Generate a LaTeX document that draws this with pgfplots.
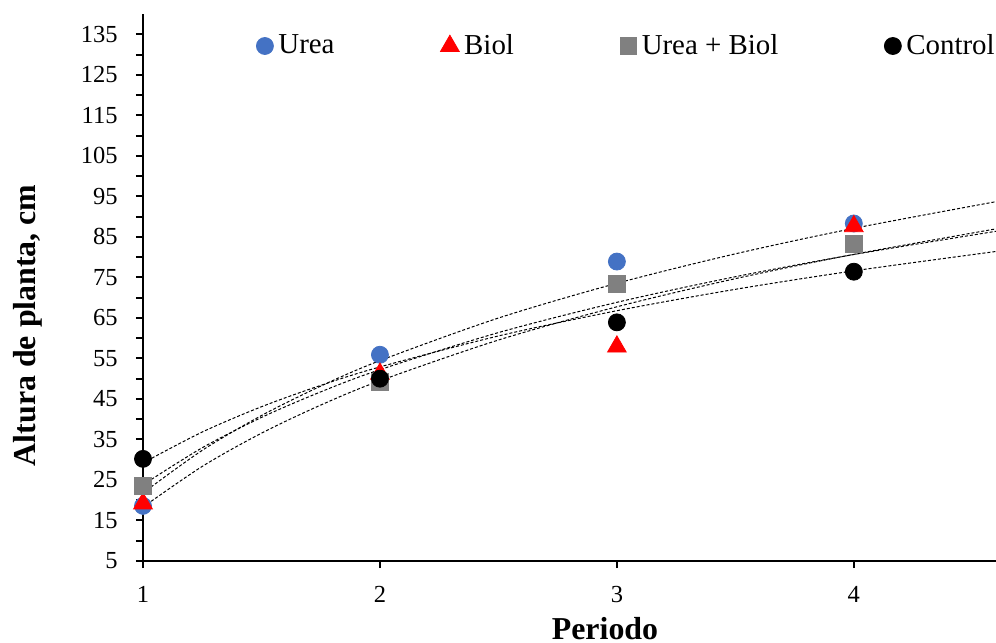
\documentclass[border=0pt]{standalone}
\usepackage{pgfplots}
\pgfplotsset{compat=1.18}
\usepackage{fontspec}
\setmainfont{Liberation Serif}
\definecolor{ureablue}{RGB}{68,114,196}
\definecolor{ubgray}{RGB}{128,128,128}
\begin{document}
\begin{tikzpicture}
\begin{axis}[
  name=ax,
  scale only axis,
  width=426.5bp, height=273.5bp,
  xmin=1, xmax=4.6, ymin=5, ymax=140,
  clip=false,
  axis lines=left,
  axis line style={-, line width=1bp, black},
  xtick={1,2,3,4},
  ytick={5,15,...,135},
  minor y tick num=1,
  tick align=outside,
  major tick length=3.5bp, minor tick length=3.5bp,
  every tick/.style={line width=1bp, black},
  /pgf/number format/assume math mode=true,
  tick label style={font=\fontsize{12.3}{15}\selectfont},
  yticklabel style={anchor=east, inner sep=0pt, xshift=-9bp},
  xticklabel style={anchor=north, inner sep=0pt, yshift=-9bp},
  xlabel={Periodo},
  ylabel={Altura de planta, cm},
  xlabel style={at={(axis description cs:0.5416,0)}, anchor=base, yshift=-39bp, font=\bfseries\fontsize{16}{19}\selectfont},
  ylabel style={at={(axis description cs:-0.1266,0.431)}, anchor=base, font=\bfseries\fontsize{16}{19}\selectfont},
  legend columns=4,
  legend image code/.code={\draw[#1] plot coordinates {(0bp,0bp)};},
  legend style={draw=none, fill=none, at={(axis description cs:0.1325,0.9415)}, anchor=west, inner sep=0pt,
    font=\fontsize{14.5}{17}\selectfont,
    /tikz/every odd column/.append style={column sep=0.5bp},
    /tikz/every even column/.append style={column sep=51bp}},
  trend/.style={black, line width=0.5bp, dash pattern=on 1.5bp off 1bp, smooth, forget plot},
]
\addplot[only marks, mark=*, mark size=4.25bp, color=ureablue] coordinates {(1,18.6) (2,55.9) (3,78.9) (4,88.3)};
\addlegendentry{Urea}
\addplot[only marks, mark=triangle*, mark size=5.4bp, color=red] coordinates {(1,19.2) (2,51.2) (3,57.9) (4,87.6)};
\addlegendentry{Biol}
\addplot[only marks, mark=square*, mark size=4.2bp, color=ubgray] coordinates {(1,23.5) (2,49.2) (3,73.3) (4,83.2)};
\addlegendentry{Urea + Biol}
\addplot[only marks, mark=*, mark size=4.25bp, color=black] coordinates {(1,30.2) (2,50.0) (3,63.9) (4,76.4)};
\addlegendentry{Control}
% logarithmic trendlines
\addplot[trend] coordinates {(1,21.8) (1.25,32.31) (1.5,40.90) (1.75,48.16) (2,54.45) (2.5,64.96) (3,73.54) (3.5,80.81) (4,87.10) (4.6,93.68)};
\addplot[trend] coordinates {(1,18.3) (1.25,28.34) (1.5,36.55) (1.75,43.48) (2,49.49) (2.5,59.53) (3,67.74) (3.5,74.68) (4,80.68) (4.6,86.97)};
\addplot[trend] coordinates {(1,23.8) (1.25,32.95) (1.5,40.43) (1.75,46.74) (2,52.22) (2.5,61.37) (3,68.84) (3.5,75.16) (4,80.64) (4.6,86.37)};
\addplot[trend] coordinates {(1,29.2) (1.25,36.83) (1.5,43.07) (1.75,48.34) (2,52.90) (2.5,60.54) (3,66.77) (3.5,72.05) (4,76.61) (4.6,81.39)};
\end{axis}
\pgfresetboundingbox
\path ([shift={(-71.5bp,-41bp)}]ax.south west) rectangle ([shift={(0bp,7bp)}]ax.north east);
\end{tikzpicture}
\end{document}
